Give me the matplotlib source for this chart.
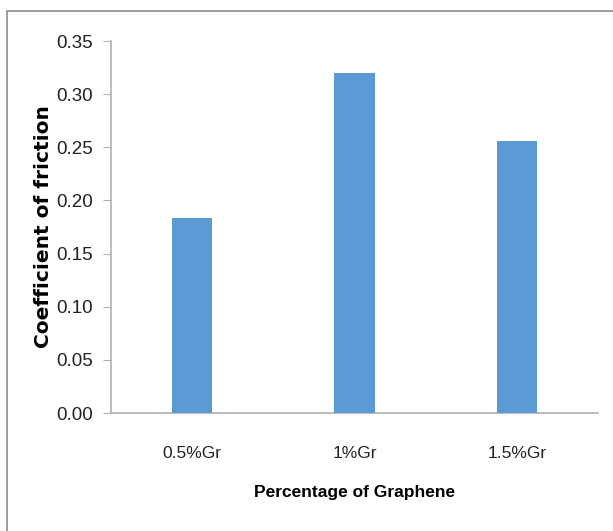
import matplotlib
matplotlib.use("Agg")
import matplotlib.pyplot as plt
from matplotlib.patches import Rectangle

# data
categories = ["0.5%Gr", "1%Gr", "1.5%Gr"]
friction = [0.183, 0.320, 0.256]
yticks = [0.00, 0.05, 0.10, 0.15, 0.20, 0.25, 0.30, 0.35]

narrow = ["Liberation Sans Narrow", "Liberation Sans", "DejaVu Sans"]

fig = plt.figure(figsize=(6.13, 5.31), dpi=100)
W, H = 613, 531
ax = fig.add_axes([111 / W, 1 - 413 / H, 487 / W, 372 / H])

x = range(len(categories))
ax.bar(x, friction, width=0.25, color="#5B9BD5", zorder=3)

ax.set_xlim(-0.5, 2.5)
ax.set_ylim(0, 0.35)
ax.set_yticks(yticks)
ax.set_yticklabels([f"{v:.2f}" for v in yticks], family=narrow, fontsize=13.5, color="#222222")
ax.set_xticks(list(x))
ax.set_xticklabels(categories, family=narrow, fontsize=12.5, color="#222222")

for s in ["top", "right"]:
    ax.spines[s].set_visible(False)
for s in ["left", "bottom"]:
    ax.spines[s].set_color("#B0B0B0")
    ax.spines[s].set_linewidth(1.2)
ax.tick_params(axis="y", length=6, color="#B0B0B0", pad=7)
ax.tick_params(axis="x", length=0, pad=24)

ax.set_ylabel("Coefficient of friction", fontsize=14.5, fontweight="bold",
              family="DejaVu Sans", labelpad=2)
ax.set_xlabel("Percentage of Graphene", family=narrow, fontsize=12.5,
              fontweight="bold", labelpad=17)

# chart border (extends past right/bottom edge)
fig.patches.append(Rectangle((7 / W, -0.1), 1.1, 1 - 11 / H + 0.1,
                             transform=fig.transFigure, fill=False,
                             edgecolor="#8C8C8C", linewidth=1.2))

fig.savefig("out.png", dpi=100)
